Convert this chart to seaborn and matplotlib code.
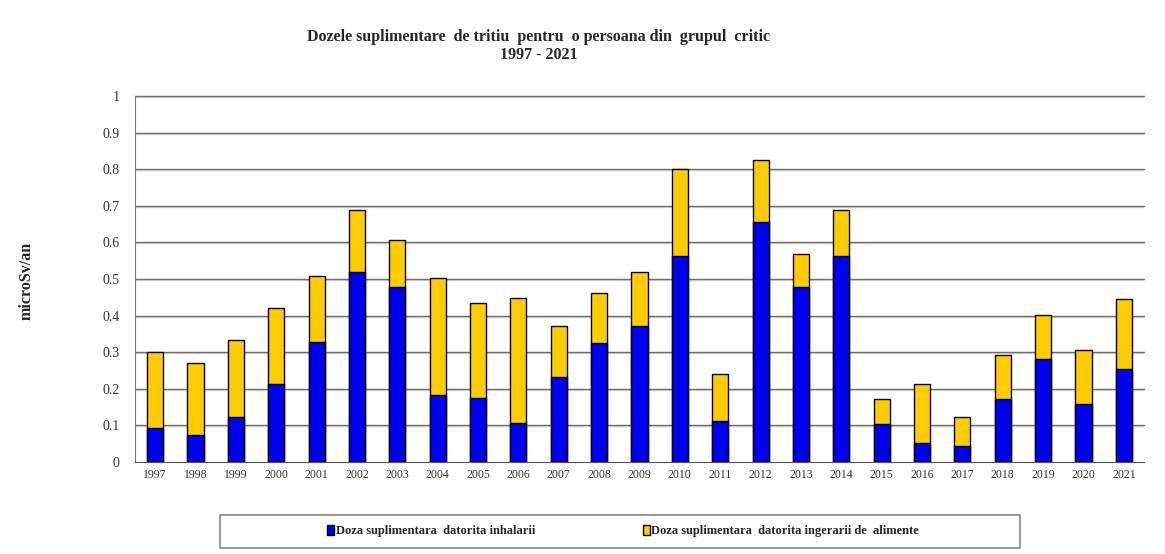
import numpy as np
import pandas as pd
import matplotlib
matplotlib.use("Agg")
import matplotlib.pyplot as plt
import seaborn as sns
from matplotlib.patches import Patch, Rectangle

# -----------------------------------------------------------------------------
# data (microSv/an)
years = [str(y) for y in range(1997, 2022)]
inhalare = [0.093, 0.074, 0.123, 0.214, 0.328, 0.519, 0.477, 0.184, 0.175, 0.107,
            0.232, 0.324, 0.371, 0.564, 0.112, 0.657, 0.477, 0.564, 0.103, 0.053,
            0.044, 0.173, 0.282, 0.159, 0.253]
ingerare = [0.208, 0.197, 0.211, 0.207, 0.179, 0.169, 0.130, 0.319, 0.260, 0.341,
            0.139, 0.139, 0.148, 0.237, 0.129, 0.169, 0.092, 0.125, 0.068, 0.159,
            0.079, 0.118, 0.119, 0.148, 0.191]
yticks = [0, 0.1, 0.2, 0.3, 0.4, 0.5, 0.6, 0.7, 0.8, 0.9, 1]
ytick_labels = ["0", "0.1", "0.2", "0.3", "0.4", "0.5", "0.6", "0.7", "0.8", "0.9", "1"]

title1 = "Dozele suplimentare  de tritiu  pentru  o persoana din  grupul  critic"
title2 = "1997 - 2021"
label_inh = "Doza suplimentara  datorita inhalarii"
label_ing = "Doza suplimentara  datorita ingerarii de  alimente"

df = pd.DataFrame({"an": years, "inhalare": inhalare, "ingerare": ingerare})
df["total"] = df["inhalare"] + df["ingerare"]

BLUE = "#0000F0"
YELLOW = "#FFCC00"

# -----------------------------------------------------------------------------
sns.set_style("white")
plt.rcParams["font.family"] = ["Liberation Serif", "DejaVu Serif"]

fig = plt.figure(figsize=(11.65, 5.54), dpi=100)
ax = fig.add_axes([135 / 1165, 1 - 462 / 554, (1144 - 135) / 1165, (462 - 96) / 554])

# stacked bars: total in yellow, inhalation part drawn over it in blue
sns.barplot(data=df, x="an", y="total", color=YELLOW, saturation=1, width=0.4,
            edgecolor="black", linewidth=1, ax=ax, zorder=3)
sns.barplot(data=df, x="an", y="inhalare", color=BLUE, saturation=1, width=0.4,
            edgecolor="black", linewidth=1, ax=ax, zorder=4)

ax.set_xlim(-0.5, len(years) - 0.5)
ax.set_ylim(0, 1)
ax.set_yticks(yticks)
ax.set_yticklabels(ytick_labels, fontsize=10, color="#333333")
ax.set_xticks(range(len(years)))
ax.set_xticklabels(years, fontsize=8.5, color="#333333")
ax.tick_params(axis="x", which="major", length=0, pad=5)
ax.set_xticks(np.arange(-0.5, len(years), 1), minor=True)
ax.tick_params(axis="x", which="minor", length=4, color="#666666", direction="out")
ax.tick_params(axis="y", length=5, color="#666666", direction="out", pad=6)
ax.set_xlabel("")
ax.set_ylabel("")

for y in yticks[1:]:
    ax.axhline(y - 0.003, color="#d8d8d8", lw=1.0, zorder=1)
    ax.axhline(y, color="#6e6e6e", lw=1.0, zorder=2, clip_on=False)

for s in ["top", "right"]:
    ax.spines[s].set_visible(False)
ax.spines["left"].set_color("#777777")
ax.spines["bottom"].set_color("#555555")

fig.text(539 / 1165, 1 - 37 / 554, title1, ha="center", va="center",
         fontsize=11.5, fontweight="bold")
fig.text(539 / 1165, 1 - 55 / 554, title2, ha="center", va="center",
         fontsize=11.5, fontweight="bold")
fig.text(27 / 1165, 1 - 281 / 554, "microSv/an", rotation=90, ha="center",
         va="center", fontsize=11.5, fontweight="bold")

# legend box
fig.patches.append(Rectangle((220 / 1165, 1 - 548 / 554), 800 / 1165, 33 / 554,
                             transform=fig.transFigure, facecolor="white",
                             edgecolor="#888888", lw=1.2))
handles = [Patch(facecolor=BLUE, edgecolor="black", label=label_inh),
           Patch(facecolor=YELLOW, edgecolor="black", label=label_ing)]
fig.legend(handles=handles, loc="center", bbox_to_anchor=(623 / 1165, 1 - 531 / 554),
           ncol=2, frameon=False, prop={"size": 9, "weight": "bold"},
           handlelength=0.6, handleheight=0.8, handletextpad=0.1, columnspacing=8.6)

fig.savefig("out.png", dpi=100)
